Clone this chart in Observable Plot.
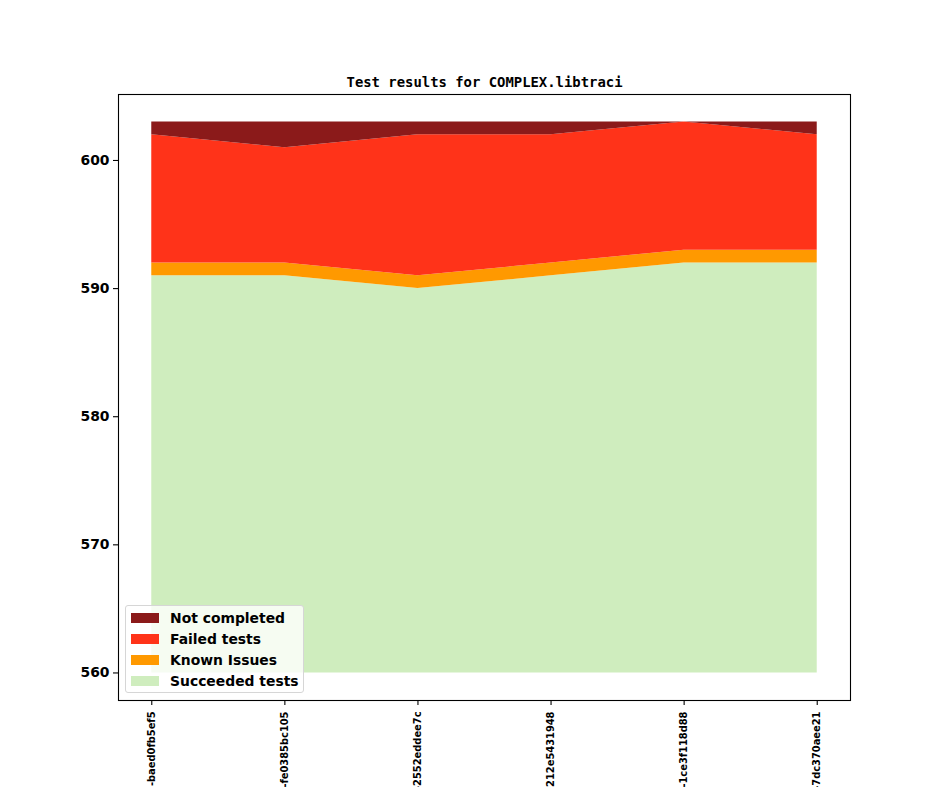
<!DOCTYPE html>
<html>
<head>
<meta charset="utf-8">
<script src="https://cdn.jsdelivr.net/npm/d3@7"></script>
<script src="https://cdn.jsdelivr.net/npm/@observablehq/plot@0.6"></script>
<style>
  html, body { margin: 0; padding: 0; background: #fff; overflow: hidden; }
  #wrap { position: relative; width: 944px; height: 787px; overflow: hidden; }
  #legend {
    position: absolute; left: 125px; top: 605px; width: 179px; height: 88px;
    background: rgba(255,255,255,0.8); border: 1px solid #d6d6d6; border-radius: 3px;
    font-family: "DejaVu Sans", sans-serif; font-weight: bold; font-size: 13.9px; color: #000;
    box-sizing: border-box; padding-top: 1px;
  }
  .row { display: flex; align-items: center; height: 21px; }
  .sw { width: 28px; height: 10px; margin-left: 5px; margin-right: 11px; }
</style>
</head>
<body>
<div id="wrap"><div id="chart"></div><div id="legend"></div></div>
<script>
const labels = [
  "v1_20_0+1587-baed0fb5ef5",
  "v1_20_0+1601-fe0385bc105",
  "v1_20_0+1622-2552eddee7c",
  "v1_20_0+1640212e5431948",
  "v1_20_0+1655-1ce3f118d88",
  "v1_20_0+1671-7dc370aee21"
];
const baseline = 560;
const succeeded = [591, 591, 590, 591, 592, 592];
const knownIssues = [1, 1, 1, 1, 1, 1];
const failed = [10, 9, 11, 10, 10, 9];
const notCompleted = [1, 2, 1, 1, 0, 1];
const seriesNames = ["Succeeded tests", "Known Issues", "Failed tests", "Not completed"];
const seriesColors = ["#cfedbe", "#ff9900", "#ff3319", "#8b1a1a"];

// build stacked rows
const rows = [];
labels.forEach((lab, i) => {
  const s1 = succeeded[i];
  const s2 = s1 + knownIssues[i];
  const s3 = s2 + failed[i];
  const s4 = s3 + notCompleted[i];
  const bounds = [[baseline, s1], [s1, s2], [s2, s3], [s3, s4]];
  bounds.forEach((b, k) => rows.push({i, series: seriesNames[k], y1: b[0], y2: b[1]}));
});

const fontBase = "'DejaVu Sans', sans-serif";
const plot = Plot.plot({
  width: 944,
  height: 787,
  marginLeft: 118,
  marginRight: 94,
  marginTop: 94,
  marginBottom: 87,
  style: {fontFamily: fontBase, fontWeight: "bold", fontSize: "13.9px", background: "#fff", color: "#000", overflow: "visible"},
  x: {type: "linear", domain: [-0.25, 5.25]},
  y: {domain: [557.85, 605.15]},
  color: {domain: seriesNames, range: seriesColors},
  marks: [
    Plot.areaY(rows, {x: "i", y1: "y1", y2: "y2", fill: "series", z: "series", curve: "linear"}),
    Plot.frame({stroke: "#000", strokeWidth: 1.1}),
    Plot.axisY({ticks: [560, 570, 580, 590, 600], tickSize: 5, tickPadding: 4, fontSize: 13.9, fontWeight: "bold", label: null, strokeWidth: 1.1}),
    Plot.axisX({ticks: [0, 1, 2, 3, 4, 5], tickFormat: d => labels[d], tickRotate: -90, tickSize: 5, tickPadding: 6, fontSize: 9.9, fontWeight: "bold", label: null, strokeWidth: 1.1}),
    Plot.text(["Test results for COMPLEX.libtraci"], {frameAnchor: "top", lineAnchor: "bottom", dy: -8, fontFamily: "'DejaVu Sans Mono', monospace", fontWeight: "bold", fontSize: 13.9})
  ]
});
document.getElementById("chart").appendChild(plot);

const legendOrder = [3, 2, 1, 0];
const lg = document.getElementById("legend");
legendOrder.forEach(k => {
  const r = document.createElement("div");
  r.className = "row";
  r.innerHTML = `<div class="sw" style="background:${seriesColors[k]}"></div><span>${seriesNames[k]}</span>`;
  lg.appendChild(r);
});
</script>
</body>
</html>
